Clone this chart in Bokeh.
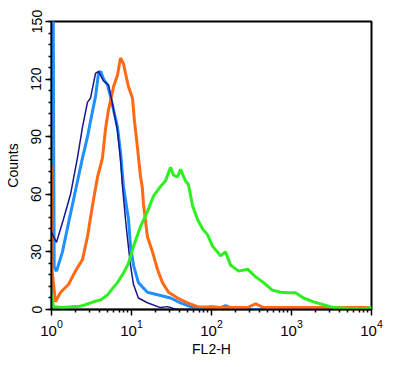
from bokeh.plotting import figure
from bokeh.models import FixedTicker, LogTickFormatter, Range1d
from bokeh.embed import file_html
from bokeh.resources import INLINE

# ---- data ----
navy_x = [1.01, 1.06, 1.155, 1.41, 1.73, 2.11, 2.44, 2.82, 3.07, 3.55, 3.87, 4.47, 5.16, 5.79,
          6.68, 7.29, 7.72, 8.41, 8.91, 9.72, 10.6, 12.2, 15.8, 23.0, 28.2, 33.5, 37.6, 100, 1000, 10000]
navy_y = [40, 38, 35, 47, 60, 79, 95, 108, 110, 123, 124, 119, 117, 107,
          93, 78, 64, 47, 37, 23, 13, 6, 3.5, 1, 1.5, 0.5, 0, 0, 0, 0]

blue_x = [1.035, 1.05, 1.065, 1.08, 1.155, 1.37, 1.63, 1.88, 2.44, 2.82, 3.07, 3.55, 3.87, 4.10, 4.47,
          5.01, 5.46, 5.96, 6.68, 7.29, 7.94, 9.17, 9.72, 10.6, 12.2, 15.8, 21.1, 30.7, 41.0, 54.6,
          72.9, 100, 130, 150, 174, 232, 300, 1000, 10000]
blue_y = [160, 160, 88, 22, 20, 30, 45, 57, 79, 90, 98, 111, 123, 124, 120,
          117, 111, 104, 95, 82, 64, 47, 33, 23, 14, 9, 7.7, 6, 3.5, 1.5,
          1, 1.5, 1, 2, 1, 1, 0, 0, 0]

orange_x = [1.006, 1.02, 1.12, 1.30, 1.63, 1.99, 2.44, 2.82, 3.25, 3.76, 4.34, 4.73, 5.16, 5.96,
            6.68, 7.29, 7.94, 8.41, 9.17, 10.3, 10.9, 11.9, 12.9, 13.7, 14.1, 15.8, 18.3, 21.1,
            24.4, 29.0, 37.6, 50.1, 66.8, 89.1, 150, 282.8, 355.7, 447.7, 1000, 3000, 10000]
orange_y = [75, 20, 4, 9, 13, 20, 26, 38, 54, 69, 79, 94, 104, 116,
            122, 131, 128, 123, 116, 110, 98, 84, 70, 63, 55, 38, 30, 21,
            14, 9, 6, 3.5, 1.5, 1, 1, 1, 3, 1, 1, 1, 1]

green_x = [1.006, 1.06, 1.37, 1.83, 2.17, 2.66, 3.35, 4.10, 5.01, 5.79, 6.68, 7.94, 9.17, 10.6,
           12.9, 15.8, 18.8, 23.0, 26.6, 30.7, 33.5, 37.6, 41.0, 47.3, 51.6, 57.9, 66.8, 77.2,
           89.1, 102.9, 129.9, 149.6, 173.8, 218.8, 282.8, 355.7, 447.7, 580.5, 731, 890, 1122,
           1413, 1884, 2512, 3350, 5012, 7943, 10000]
green_y = [8, 1.5, 1, 1.5, 1.5, 2.5, 4, 5, 7.5, 11, 14, 19, 24, 33,
           43, 51, 59, 64, 67, 74, 70, 69, 73, 67, 65, 54, 47, 42,
           39, 33, 28, 30, 23, 20, 21, 17, 14, 10, 9, 8.7, 8.7,
           6, 4, 2.5, 1, 0.5, 0.3, 1]

x_major = [1, 10, 100, 1000, 10000]
x_minor = [m * d for d in [1, 10, 100, 1000] for m in range(2, 10)]
y_major = [0, 30, 60, 90, 120, 150]
y_minor = list(range(0, 151, 6))

FONT = "Liberation Sans"

p = figure(x_axis_type="log", output_backend="svg", toolbar_location=None,
           width=385, height=359,
           min_border_left=51, min_border_right=14, min_border_top=21, min_border_bottom=44,
           x_range=Range1d(1, 10000), y_range=Range1d(0, 150))

p.background_fill_color = "white"
p.border_fill_color = "white"
p.outline_line_color = "black"
p.outline_line_width = 2
p.xgrid.visible = False
p.ygrid.visible = False

p.line(blue_x, blue_y, line_color="#1e90ff", line_width=3)
p.line(orange_x, orange_y, line_color="#ff6a13", line_width=3)
p.line(navy_x, navy_y, line_color="#16168f", line_width=1.5)
p.line(green_x, green_y, line_color="#2cf020", line_width=3)

xa = p.xaxis[0]
xa.ticker = FixedTicker(ticks=x_major, minor_ticks=x_minor)
xa.formatter = LogTickFormatter()
xa.axis_label = "FL2-H"
ya = p.yaxis[0]
ya.ticker = FixedTicker(ticks=y_major, minor_ticks=y_minor)
ya.axis_label = "Counts"
ya.major_label_orientation = "vertical"

for ax in (xa, ya):
    ax.axis_line_color = "black"
    ax.axis_line_width = 1.5
    ax.major_tick_line_color = "black"
    ax.minor_tick_line_color = "black"
    ax.major_tick_line_width = 1.5
    ax.minor_tick_line_width = 1.5
    ax.major_tick_out = 6
    ax.major_tick_in = 0
    ax.minor_tick_out = 3
    ax.minor_tick_in = 0
    ax.major_label_text_font = FONT
    ax.major_label_text_font_size = "14px"
    ax.major_label_text_color = "black"
    ax.axis_label_text_font = FONT
    ax.axis_label_text_font_size = "14px"
    ax.axis_label_text_font_style = "normal"
    ax.axis_label_text_color = "black"

xa.major_label_text_font_size = "15px"
ya.major_label_standoff = 4
ya.axis_label_standoff = 8
xa.major_label_standoff = 4
xa.axis_label_standoff = 2

open("out.html", "w").write(file_html(p, INLINE))
